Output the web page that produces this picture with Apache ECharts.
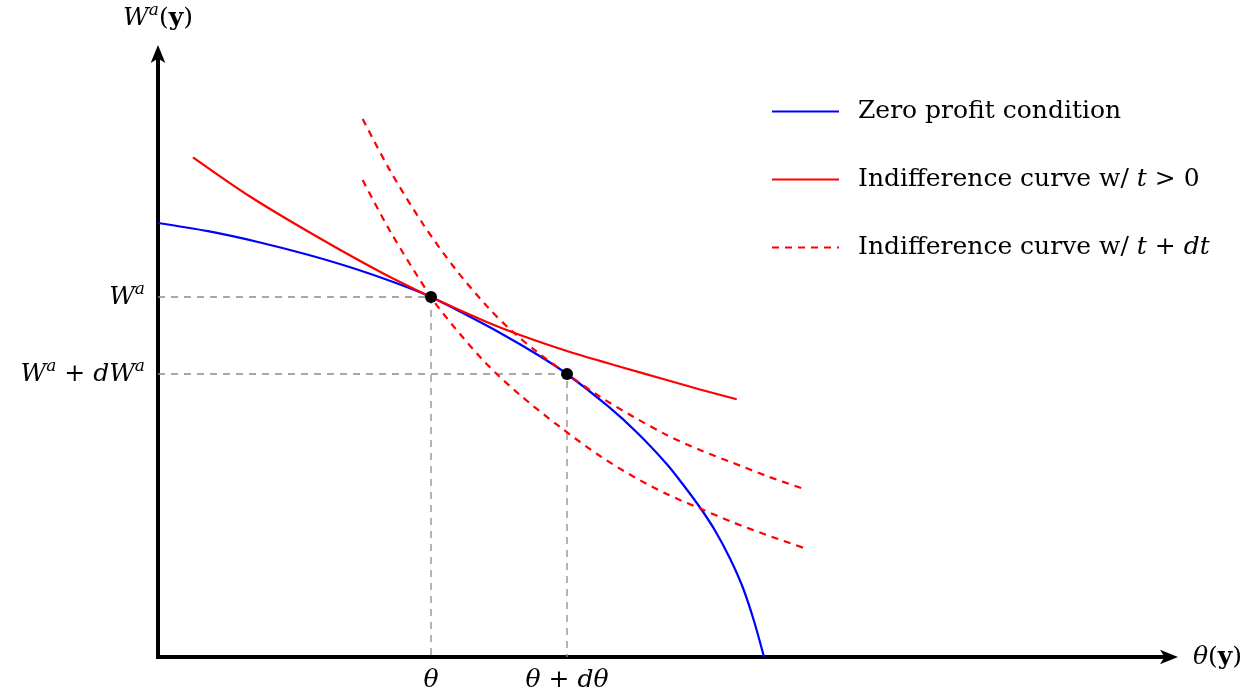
<!DOCTYPE html>
<html>
<head>
<meta charset="utf-8">
<script src="https://cdn.jsdelivr.net/npm/echarts@6/dist/echarts.min.js"></script>
<style>
html,body{margin:0;padding:0;background:#fff;}
#chart{width:1260px;height:697px;}
</style>
</head>
<body>
<div id="chart"></div>
<script>
// ---- Data (arbitrary units) ----
const zeroProfitX = [0, 0.5, 1.0, 1.5, 2.0, 2.5, 2.73, 3.0, 3.4, 3.8, 4.09, 4.5, 4.8, 5.087, 5.25, 5.42, 5.57, 5.72, 5.85, 5.96, 6.06];
const zeroProfitY = [4.34, 4.258, 4.15, 4.022, 3.872, 3.695, 3.60, 3.465, 3.253, 3.02, 2.83, 2.508, 2.235, 1.93, 1.725, 1.495, 1.265, 0.985, 0.69, 0.36, 0];

const indiffX = [0.35, 0.92, 1.587, 2.253, 2.73, 3.287, 3.62, 4.12, 4.62, 5.087, 5.42, 5.787];
const indiffY = [4.997, 4.605, 4.205, 3.835, 3.60, 3.35, 3.22, 3.05, 2.903, 2.77, 2.675, 2.577];

const indiffDtUpperX = [2.047, 2.32, 2.653, 2.97, 3.287, 3.52, 3.787, 4.09, 4.42, 4.753, 5.087, 5.42, 5.753, 6.087, 6.47];
const indiffDtUpperY = [5.38, 4.865, 4.325, 3.885, 3.51, 3.277, 3.053, 2.83, 2.603, 2.403, 2.22, 2.07, 1.94, 1.81, 1.677];

const indiffDtLowerX = [2.047, 2.32, 2.73, 2.953, 3.287, 3.62, 4.02, 4.42, 4.753, 5.087, 5.42, 5.753, 6.087, 6.47];
const indiffDtLowerY = [4.77, 4.26, 3.60, 3.31, 2.93, 2.62, 2.30, 2.01, 1.805, 1.63, 1.485, 1.345, 1.22, 1.087];

const thetaTicks = [2.73, 4.09];
const thetaTickLabels = ['θ', 'θ + dθ'];
const wTicks = [3.60, 2.83];
const wTickLabels = ['W^a', 'W^a + dW^a'];

const seriesNames = ['Zero profit condition', 'Indifference curve w/ t > 0', 'Indifference curve w/ t + dt'];
const xAxisName = 'θ(y)';
const yAxisName = 'W^a(y)';
const xMax = 10.11;
const yMax = 6.03;

// ---- Rendering ----
const zip = (xs, ys) => xs.map((x, i) => [x, ys[i]]);
const FONT = 'DejaVu Serif';
const FS = 25;
const rich = {
  rm: {fontFamily: FONT, fontSize: FS, color: '#000', lineHeight: 32},
  it: {fontFamily: FONT, fontStyle: 'italic', fontSize: FS, color: '#000', lineHeight: 32},
  bf: {fontFamily: FONT, fontWeight: 'bold', fontSize: FS, color: '#000', lineHeight: 32},
  sup: {fontFamily: FONT, fontStyle: 'italic', fontSize: 17, color: '#000', lineHeight: 17, verticalAlign: 'top'},
  sp: {fontSize: FS, width: 14, lineHeight: 32}
};
const texMap = {
  'θ': '{it|θ}',
  'θ + dθ': '{it|θ}{rm| + }{it|dθ}',
  'W^a': '{it|W}{sup|a}',
  'W^a + dW^a': '{it|W}{sup|a}{rm| + }{it|dW}{sup|a}',
  'θ(y)': '{it|θ}{rm|(}{bf|y}{rm|)}',
  'W^a(y)': '{it|W}{sup|a}{rm|(}{bf|y}{rm|)}',
  'Zero profit condition': '{sp| }{rm|Zero profit condition}',
  'Indifference curve w/ t > 0': '{sp| }{rm|Indifference curve w/ }{it|t}{rm| > 0}',
  'Indifference curve w/ t + dt': '{sp| }{rm|Indifference curve w/ }{it|t}{rm| + }{it|dt}'
};
const tex = s => texMap[s] || s;

const dash = [7, 6];
const curve = (name, data, color, type, z) => ({
  name, type: 'line', data, symbol: 'none', showSymbol: false,
  smooth: 0.3, z,
  lineStyle: {color, width: 2.2, type, opacity: 1},
  itemStyle: {color},
  emphasis: {disabled: true}, silent: true
});
const guide = (x, y) => ({
  type: 'line', data: [[0, y], [x, y], [x, 0]], symbol: 'none', z: 1, silent: true,
  lineStyle: {color: '#8c8c8c', width: 1.3, type: dash}
});

const series = [
  guide(thetaTicks[0], wTicks[0]),
  guide(thetaTicks[1], wTicks[1]),
  curve(seriesNames[0], zip(zeroProfitX, zeroProfitY), '#0000ff', 'solid', 3),
  curve(seriesNames[1], zip(indiffX, indiffY), '#ff0000', 'solid', 3),
  curve(seriesNames[2], zip(indiffDtUpperX, indiffDtUpperY), '#ff0000', dash, 3),
  curve(seriesNames[2], zip(indiffDtLowerX, indiffDtLowerY), '#ff0000', dash, 3),
  {
    type: 'scatter', z: 5, silent: true, symbolSize: 12,
    itemStyle: {color: '#000', opacity: 1},
    data: thetaTicks.map((t, i) => [t, wTicks[i]])
  },
  {
    type: 'scatter', z: 5, silent: true, symbolSize: 0, clip: false,
    itemStyle: {opacity: 0},
    data: thetaTicks.map((t, i) => ({value: [t, 0], name: thetaTickLabels[i]})),
    label: {show: true, position: 'bottom', distance: 7, color: '#000', opacity: 1, formatter: p => tex(p.name), rich}
  },
  {
    type: 'scatter', z: 5, silent: true, symbolSize: 0, clip: false,
    itemStyle: {opacity: 0},
    data: wTicks.map((w, i) => ({value: [0, w], name: wTickLabels[i]})),
    label: {show: true, position: 'left', distance: 13, color: '#000', opacity: 1, formatter: p => tex(p.name), rich}
  }
];

const axisCommon = {
  type: 'value', min: 0,
  axisTick: {show: false}, axisLabel: {show: false}, splitLine: {show: false},
  axisLine: {show: true, onZero: false, symbol: ['none', 'arrow'], symbolSize: [11, 18], symbolOffset: [0, 9],
             lineStyle: {color: '#000', width: 4, cap: 'square'}},
  nameTextStyle: {rich}
};

const chart = echarts.init(document.getElementById('chart'), null, {renderer: 'canvas'});
chart.setOption({
  animation: false,
  backgroundColor: '#fff',
  grid: {left: 158, right: 1260 - 158 - Math.round(xMax * 100), top: 697 - 40 - Math.round(yMax * 100), bottom: 40, containLabel: false, outerBoundsMode: 'none'},
  xAxis: Object.assign({}, axisCommon, {max: xMax, name: tex(xAxisName), nameLocation: 'end', nameGap: 24}),
  yAxis: Object.assign({}, axisCommon, {max: yMax, name: tex(yAxisName), nameLocation: 'end', nameGap: 20}),
  legend: {
    orient: 'vertical', left: 771, top: 99, padding: 0, itemWidth: 67, itemHeight: 14, itemGap: 43,
    selectedMode: false,
    data: seriesNames,
    itemStyle: {opacity: 0},
    formatter: n => tex(n),
    textStyle: {rich}
  },
  series
});
</script>
</body>
</html>
